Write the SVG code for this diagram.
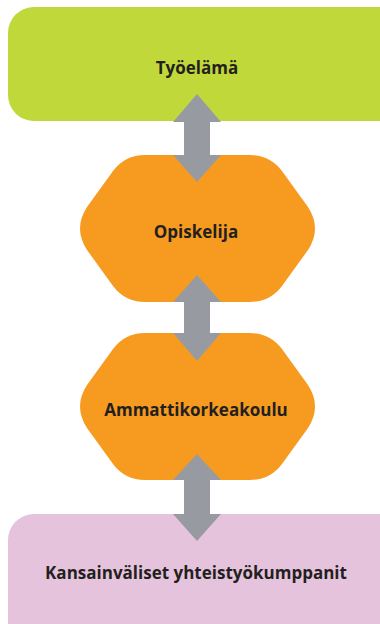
<svg xmlns="http://www.w3.org/2000/svg" width="380" height="624" viewBox="0 0 380 624">
  <defs>
    <style>
      .label { font-family: "Open Sans", "Liberation Sans", sans-serif; font-weight: 700; font-size: 17px; fill: #231F20; text-anchor: middle; }
      .hex { fill: #F79B20; }
      .arrow { fill: #979BA1; }
    </style>
  </defs>
  <rect width="380" height="624" fill="#FFFFFF"/>

  <!-- Working life -->
  <g id="tyoelama">
    <rect x="8" y="7" width="400" height="114" rx="26" ry="26" fill="#C1D83A"/>
    <text class="label" x="197" y="74">Työelämä</text>
  </g>

  <!-- Student -->
  <g id="opiskelija">
    <path class="hex" d="M 145 155 L 250 155 Q 270 155 282 171 L 308 207 Q 322 228.5 308 250 L 282 286 Q 270 302 250 302 L 145 302 Q 125 302 113 286 L 87 250 Q 73 228.5 87 207 L 113 171 Q 125 155 145 155 Z"/>
    <text class="label" x="196" y="238">Opiskelija</text>
  </g>

  <!-- University of applied sciences -->
  <g id="ammattikorkeakoulu">
    <path class="hex" d="M 145 333 L 250 333 Q 270 333 282 349 L 308 385 Q 322 406.5 308 428 L 282 464 Q 270 480 250 480 L 145 480 Q 125 480 113 464 L 87 428 Q 73 406.5 87 385 L 113 349 Q 125 333 145 333 Z"/>
    <text class="label" x="196" y="416">Ammattikorkeakoulu</text>
  </g>

  <!-- International partners -->
  <g id="kumppanit">
    <rect x="8" y="514" width="400" height="140" rx="26" ry="26" fill="#E6C3DC"/>
    <text class="label" x="196" y="579">Kansainväliset yhteistyökumppanit</text>
  </g>

  <!-- Two-way connectors -->
  <g id="connectors">
    <path class="arrow" d="M 197 94 L 221 122 L 210 122 L 210 155 L 221 155 L 197 182 L 173 155 L 184 155 L 184 122 L 173 122 Z"/>
    <path class="arrow" d="M 197 275 L 221 302 L 210 302 L 210 333 L 221 333 L 197 361 L 173 333 L 184 333 L 184 302 L 173 302 Z"/>
    <path class="arrow" d="M 197 454 L 221 480 L 210 480 L 210 514 L 221 514 L 197 541 L 173 514 L 184 514 L 184 480 L 173 480 Z"/>
  </g>
</svg>
